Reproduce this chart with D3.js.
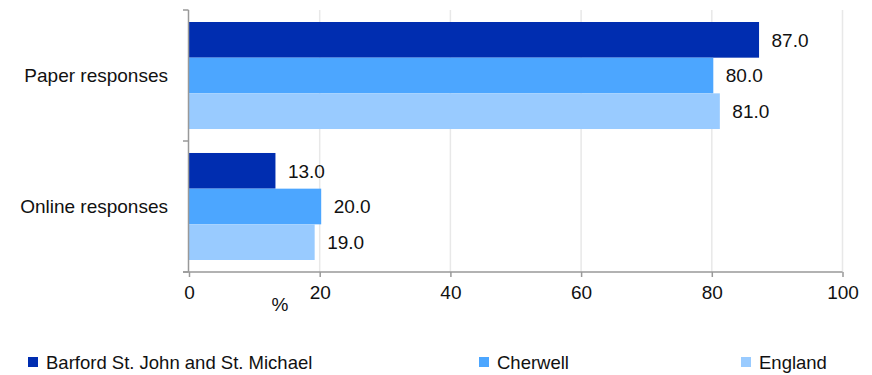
<!DOCTYPE html>
<html><head><meta charset="utf-8">
<script src="https://cdn.jsdelivr.net/npm/d3@7"></script>
<style>
html,body{margin:0;padding:0;background:#fff;}
svg{display:block;font-family:"Liberation Sans",Arial,sans-serif;}
</style></head>
<body><svg id="c" width="872" height="375"></svg>
<script>
const categories = ["Paper responses", "Online responses"];
const seriesNames = ["Barford St. John and St. Michael", "Cherwell", "England"];
const barford = [87.0, 13.0];
const cherwell = [80.0, 20.0];
const england = [81.0, 19.0];
const xTicks = [0, 20, 40, 60, 80, 100];
const colors = ["#002db0", "#4ca6ff", "#99cbff"];
const series = [barford, cherwell, england];

const svg = d3.select("#c");
const fs = "19px";
const x = d3.scaleLinear().domain([0, 100]).range([189, 842.5]);
const y0 = d3.scaleBand().domain(categories).range([10, 272]).paddingInner(0.183).paddingOuter(0.0916);
const y1 = d3.scaleBand().domain(seriesNames).range([0, y0.bandwidth()]);

// gridlines
svg.append("g").selectAll("line").data(xTicks.filter(d => d > 0)).join("line")
  .attr("x1", d => x(d)).attr("x2", d => x(d)).attr("y1", 10).attr("y2", 272)
  .attr("stroke", "#e8e8e8").attr("stroke-width", 1.5);

// bars
categories.forEach((c, ci) => {
  const g = svg.append("g").attr("transform", `translate(0,${y0(c)})`);
  seriesNames.forEach((s, si) => {
    const v = series[si][ci];
    g.append("rect").attr("x", x(0)).attr("y", y1(s)).attr("width", x(v) - x(0) + 1.5).attr("height", y1.bandwidth())
      .attr("fill", colors[si]);
    g.append("text").attr("x", x(v) + 14).attr("y", y1(s) + y1.bandwidth() / 2).attr("dy", "0.36em")
      .attr("font-size", fs).attr("fill", "#111").text(v.toFixed(1));
  });
});

// bottom axis
const xAxis = svg.append("g").attr("transform", "translate(0,272)")
  .call(d3.axisBottom(x).tickValues(xTicks).tickSize(5).tickSizeOuter(0).tickPadding(9));
xAxis.select(".domain").remove();
xAxis.append("line").attr("x1", 183).attr("x2", x(100)).attr("y1", 0).attr("y2", 0).attr("stroke", "#999").attr("stroke-width", 1.5);
xAxis.selectAll(".tick line").attr("stroke", "#999").attr("stroke-width", 1.5);
xAxis.selectAll(".tick text").attr("font-size", fs).attr("fill", "#111").attr("font-family", "Liberation Sans, Arial, sans-serif");

// left axis
svg.append("line").attr("x1", 188.5).attr("x2", 188.5).attr("y1", 10).attr("y2", 272).attr("stroke", "#999").attr("stroke-width", 1.5);
const leftTicks = [10, 10 + (272 - 10) / 2, 272];
svg.append("g").selectAll("line").data(leftTicks).join("line")
  .attr("x1", 183).attr("x2", 188.5).attr("y1", d => d).attr("y2", d => d)
  .attr("stroke", "#999").attr("stroke-width", 1.5);
svg.append("g").selectAll("text").data(categories).join("text")
  .attr("x", 168).attr("y", d => y0(d) + y0.bandwidth() / 2).attr("dy", "0.36em")
  .attr("text-anchor", "end").attr("font-size", fs).attr("fill", "#111").text(d => d);

// axis title
svg.append("text").attr("x", 280).attr("y", 311).attr("text-anchor", "middle").attr("font-size", fs).attr("fill", "#111").text("%");

// legend
const legendPos = [28, 479, 741];
seriesNames.forEach((s, i) => {
  svg.append("rect").attr("x", legendPos[i]).attr("y", 357).attr("width", 10).attr("height", 10).attr("fill", colors[i]);
  svg.append("text").attr("x", legendPos[i] + 18).attr("y", 369).attr("font-size", "18.5px").attr("fill", "#111").text(s);
});
</script></body></html>
